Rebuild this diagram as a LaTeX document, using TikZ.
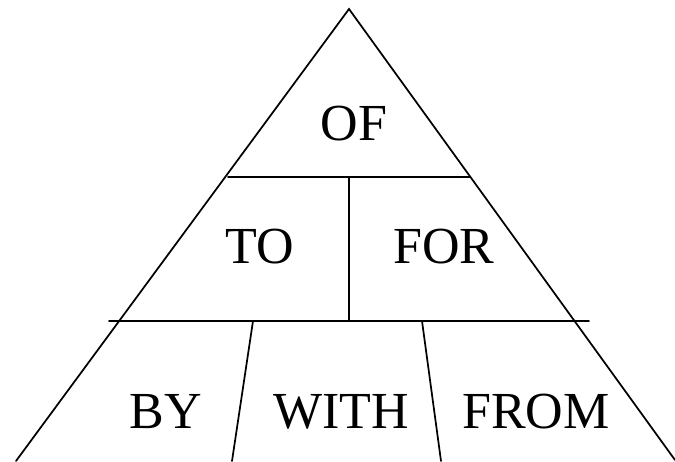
\documentclass[tikz,border=0pt]{standalone}
\usepackage{fontspec}
\setmainfont{Liberation Serif}
\usetikzlibrary{positioning}

\begin{document}
\begin{tikzpicture}[
    x=0.75pt, y=-0.75pt,
    word/.style={anchor=base, inner sep=0pt, font=\fontsize{39}{44}\selectfont},
    edge/.style={line width=1.3pt, line cap=round}
]
    \useasboundingbox (0,0) rectangle (675,461);
    % corners of the triangle
    \coordinate (apex) at (349,9);
    \coordinate (bl) at (16,461);
    \coordinate (br) at (675,460);
    % dividing lines
    \coordinate (h1l) at (228,177);
    \coordinate (h1r) at (470,177);
    \coordinate (h2l) at (109,321);
    \coordinate (h2r) at (589,321);
    \coordinate (vtop) at (349,177);
    \coordinate (vbot) at (349,321);
    \coordinate (d1t) at (253,321);
    \coordinate (d1b) at (232,461);
    \coordinate (d2t) at (422,321);
    \coordinate (d2b) at (441,461);

    \draw[edge] (bl) -- (apex) -- (br);
    \draw[edge] (h1l) -- (h1r);
    \draw[edge] (h2l) -- (h2r);
    \draw[edge] (vtop) -- (vbot);
    \draw[edge] (d1t) -- (d1b);
    \draw[edge] (d2t) -- (d2b);

    \node[word] (of) at (354,140) {OF};
    \node[word] (to) at (260,263) {TO};
    \node[word] (for) at (444,263) {FOR};
    \node[word] (by) at (166,428) {BY};
    \node[word] (with) at (341,428) {WITH};
    \node[word] (from) at (536,428) {FROM};
\end{tikzpicture}
\end{document}
